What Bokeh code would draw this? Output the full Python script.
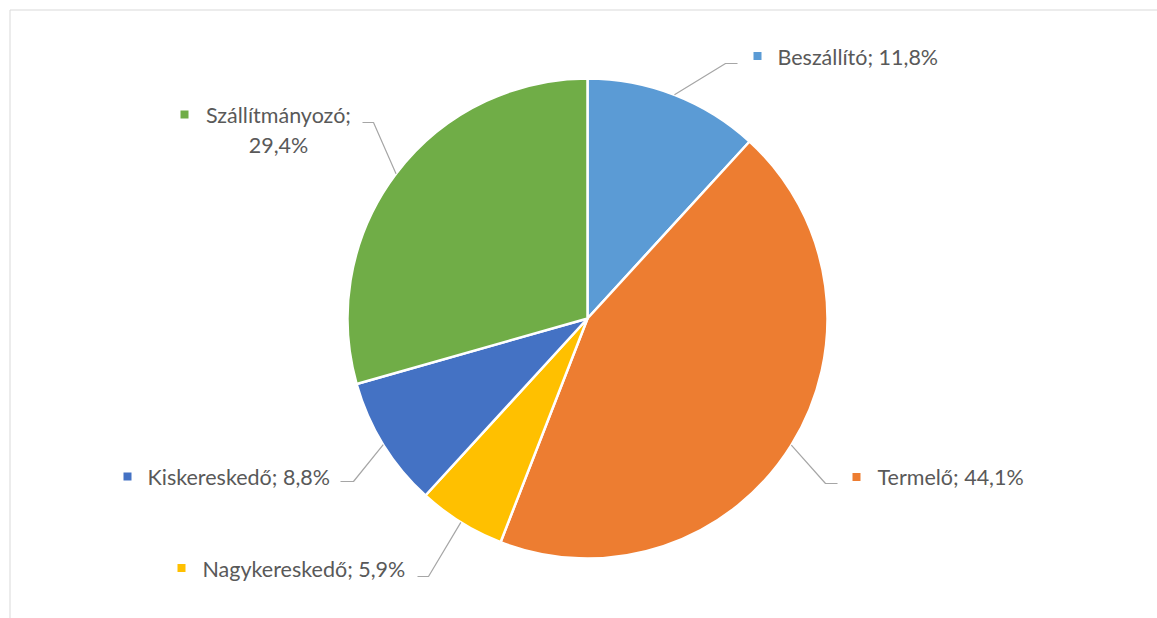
import math

from bokeh.core.properties import value
from bokeh.embed import file_html
from bokeh.models import ColumnDataSource, Range1d
from bokeh.plotting import figure
from bokeh.resources import INLINE

# Shares of the supply-chain roles (percent)
categories = ["Beszállító", "Termelő", "Nagykereskedő", "Kiskereskedő", "Szállítmányozó"]
shares = [11.8, 44.1, 5.9, 8.8, 29.4]
colors = ["#5B9BD5", "#ED7D31", "#FFC000", "#4472C4", "#70AD47"]

W, H = 1157, 618
CX, CY, R = 587, 318, 240          # pie centre / radius in screen pixels (y down)
TEXT_COLOR = "#595959"
LEADER_COLOR = "#A6A6A6"
FONT = "Lato"
FONT_SIZE = "21.5px"


def fy(y):
    """screen y (down) -> data y (up)"""
    return H - y


# label placement: text start x, vertical text centre, marker centre, leader elbow, leader end
layout = {
    "Beszállító":     dict(tx=777, ty=56,  mx=757, my=55.5, ex=725, ey=63,  hx=737),
    "Termelő":        dict(tx=877, ty=476, mx=856, my=476.5, ex=825, ey=483, hx=837),
    "Nagykereskedő":  dict(tx=202, ty=568, mx=181, my=567.5, ex=428, ey=576, hx=417),
    "Kiskereskedő":   dict(tx=147, ty=476, mx=127, my=476, ex=353, ey=481, hx=340),
    "Szállítmányozó": dict(tx=278, ty=114, mx=184, my=114, ex=373, ey=122, hx=362,
                           wrap=True, ty2=144),
}


def fmt(v):
    return f"{v:.1f}%".replace(".", ",")


p = figure(width=W, height=H, x_range=Range1d(0, W), y_range=Range1d(0, H),
           output_backend="svg", toolbar_location=None, min_border=0,
           background_fill_color="white", border_fill_color="white")
p.axis.visible = False
p.grid.visible = False
p.outline_line_color = None

# chart-area frame (only the top and left edges fall inside the page)
p.line([9.5, 9.5, W + 5], [fy(H + 5), fy(9.5), fy(9.5)], line_color="#D9D9D9", line_width=1)

# wedges, clockwise from 12 o'clock
total = sum(shares)
starts, ends, mids = [], [], []
acc = 0.0
for v in shares:
    f0, f1 = acc / total, (acc + v) / total
    starts.append(math.pi / 2 - 2 * math.pi * f0)
    ends.append(math.pi / 2 - 2 * math.pi * f1)
    mids.append(2 * math.pi * (f0 + f1) / 2)   # clockwise from top
    acc += v

src = ColumnDataSource(dict(cat=categories, share=shares, color=colors,
                            start=starts, end=ends))
p.wedge(x=CX, y=fy(CY), radius=R, start_angle="start", end_angle="end",
        direction="clock", fill_color="color", line_color="white",
        line_width=2.5, source=src)

# leader lines, markers and labels
text_kw = dict(text_font=value(FONT), text_font_size=FONT_SIZE,
               text_color=TEXT_COLOR, text_baseline="middle")
for cat, v, col, m in zip(categories, shares, colors, mids):
    L = layout[cat]
    sx = CX + R * math.sin(m)
    sy = CY - R * math.cos(m)
    p.line([sx, L["ex"], L["hx"]], [fy(sy), fy(L["ey"]), fy(L["ey"])],
           line_color=LEADER_COLOR, line_width=1.2)
    p.scatter([L["mx"]], [fy(L["my"])], marker="square", size=8,
              fill_color=col, line_color=None)
    if L.get("wrap"):
        p.text([L["tx"]], [fy(L["ty"])], text=[f"{cat};"], text_align="center", **text_kw)
        p.text([L["tx"]], [fy(L["ty2"])], text=[fmt(v)], text_align="center", **text_kw)
    else:
        p.text([L["tx"]], [fy(L["ty"])], text=[f"{cat}; {fmt(v)}"], text_align="left", **text_kw)

open("out.html", "w").write(file_html(p, INLINE))
